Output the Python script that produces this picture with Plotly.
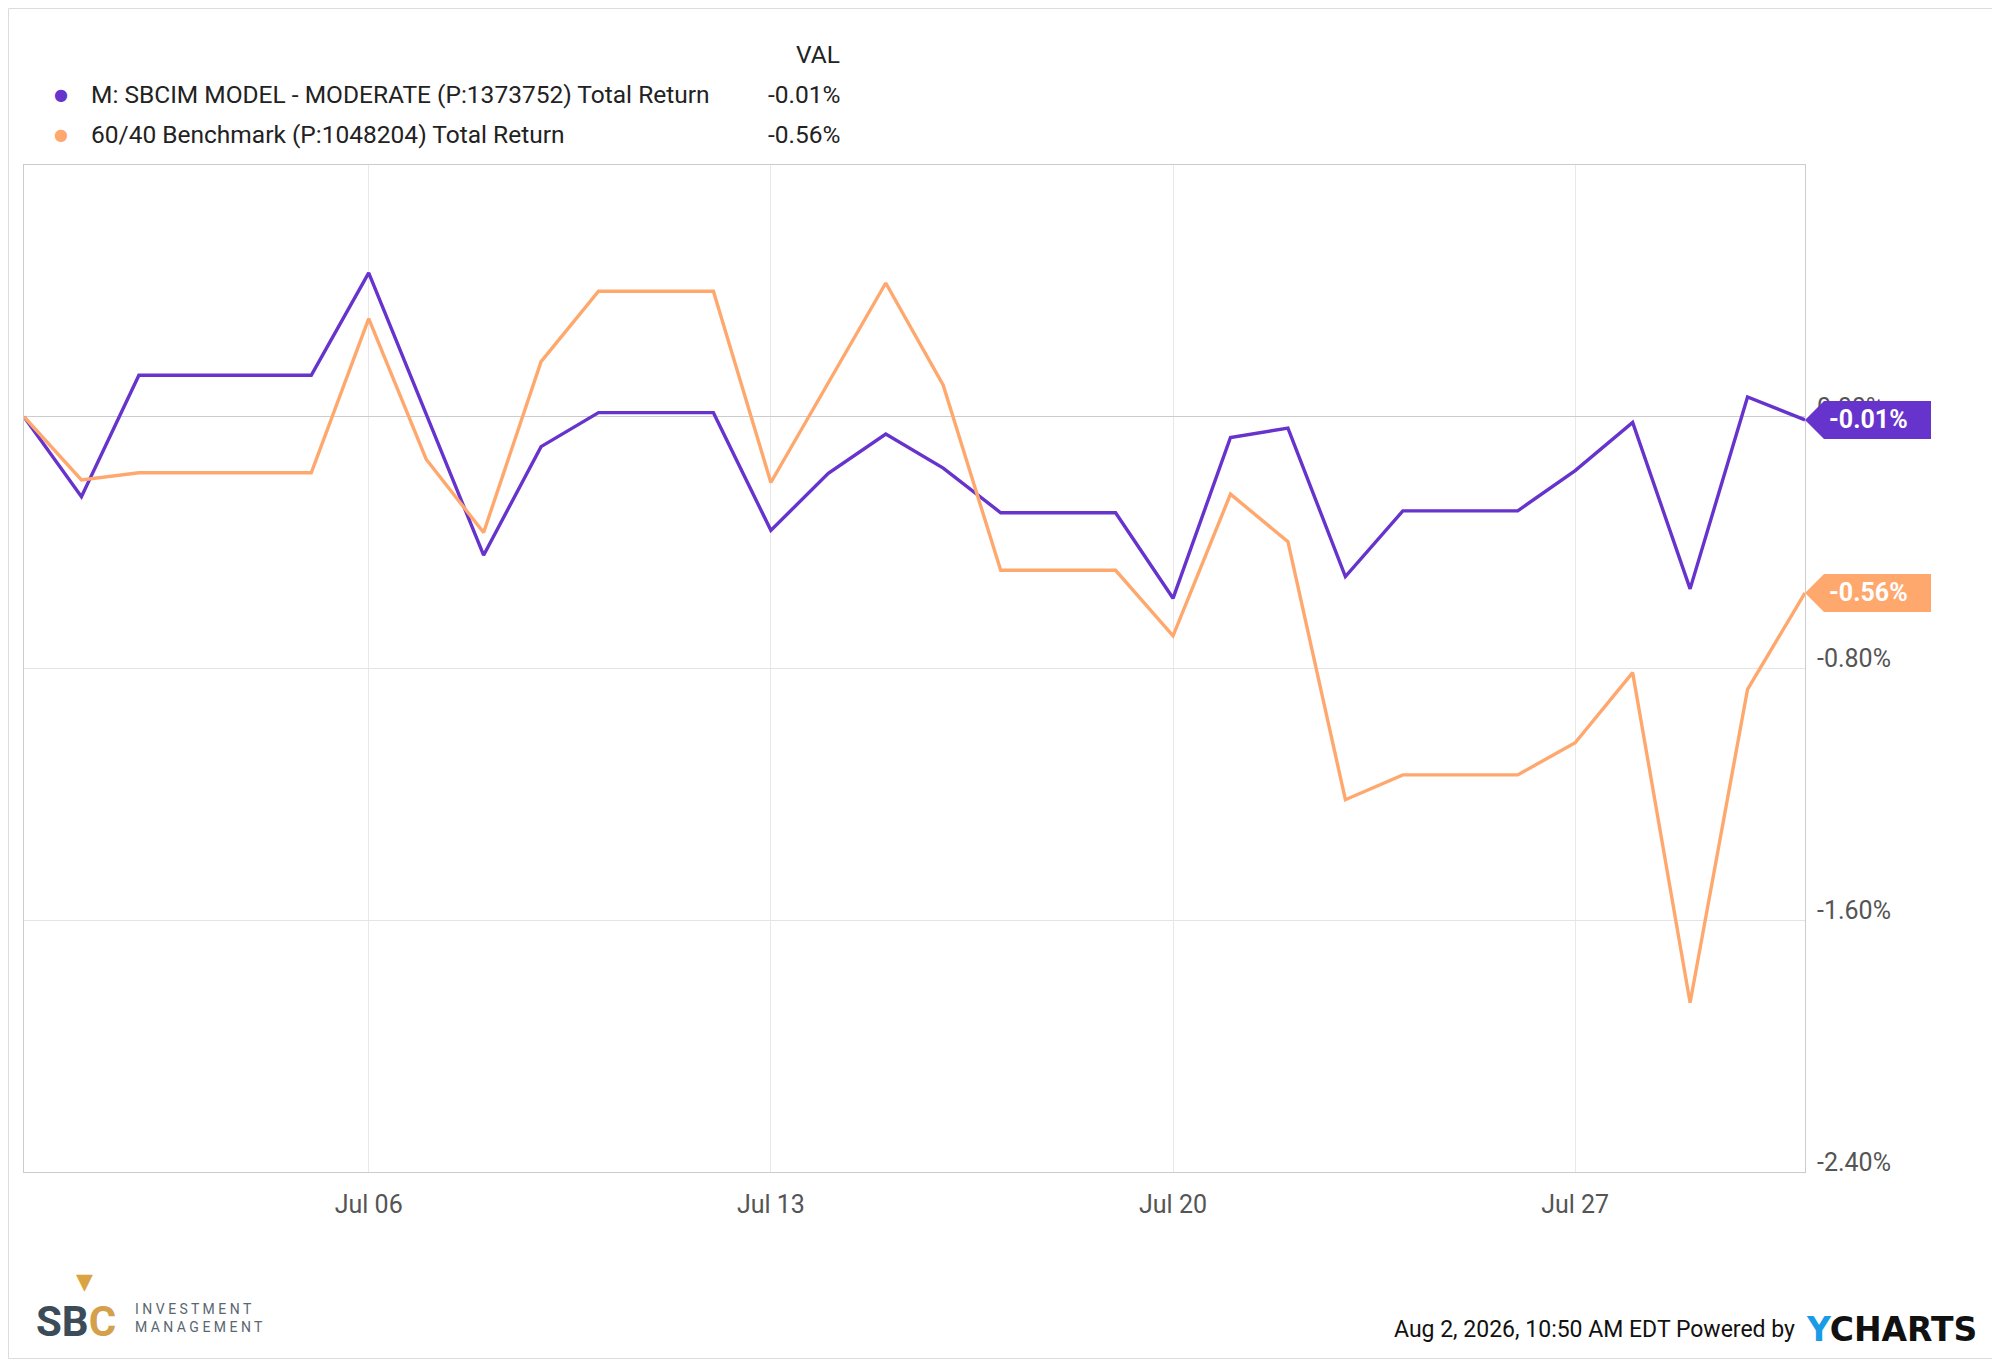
import pandas as pd
import plotly.graph_objects as go

# Daily total return (%) since Jun 30, 2026 - weekends carry the prior value
dates = pd.date_range("2026-06-30", "2026-07-31", freq="D")

sbcim_moderate = [
    0.00, -0.254, 0.132, 0.132, 0.132, 0.132, 0.457, 0.01, -0.44, -0.095,
    0.013, 0.013, 0.013, -0.361, -0.180, -0.055, -0.163, -0.305, -0.305, -0.305,
    -0.577, -0.066, -0.036, -0.508, -0.299, -0.299, -0.299, -0.171, -0.018, -0.547,
    0.063, -0.01,
]
benchmark_6040 = [
    0.00, -0.201, -0.178, -0.178, -0.178, -0.178, 0.312, -0.135, -0.368, 0.175,
    0.399, 0.399, 0.399, -0.209, 0.108, 0.425, 0.100, -0.488, -0.488, -0.488,
    -0.696, -0.246, -0.397, -1.217, -1.138, -1.138, -1.138, -1.036, -0.813, -1.862,
    -0.866, -0.56,
]

series_names = [
    "M: SBCIM MODEL - MODERATE (P:1373752) Total Return",
    "60/40 Benchmark (P:1048204) Total Return",
]
series_values = [sbcim_moderate, benchmark_6040]
series_colors = ["#6633cc", "#ffa86e"]

y_ticks = [0.0, -0.8, -1.6, -2.4]
x_ticks = ["2026-07-06", "2026-07-13", "2026-07-20", "2026-07-27"]

# page geometry in window pixels; the page body adds an 8px offset
OFF = 8
W_WIN, H_WIN = 2000, 1359
PLOT_L, PLOT_R, PLOT_T, PLOT_B = 24, 1805, 165, 1172
W_FIG, H_FIG = W_WIN - OFF, H_WIN - OFF
M_L, M_T = PLOT_L - OFF, PLOT_T - OFF
M_R, M_B = W_WIN - PLOT_R, H_WIN - PLOT_B
PW = PLOT_R - PLOT_L
PH = PLOT_B - PLOT_T


def px_x(x):
    return (x - PLOT_L) / PW


def px_y(y):
    return (PLOT_B - y) / PH


FONT = "Roboto, Arial, sans-serif"

fig = go.Figure()

for name, vals, color in zip(series_names, series_values, series_colors):
    fig.add_trace(go.Scatter(
        x=dates, y=vals, mode="lines", name=name,
        line=dict(color=color, width=3.4), showlegend=False,
        hovertemplate="%{x|%b %d}: %{y:.2f}%<extra></extra>",
    ))

# flags at the right end of each line (the x range ends on the last date)
for vals, color in zip(series_values, series_colors):
    fig.add_shape(
        type="path", xref="paper", yref="y",
        xsizemode="pixel", ysizemode="pixel",
        xanchor=1, yanchor=vals[-1],
        path="M0,0 L19,19 L126,19 L126,-19 L19,-19 Z",
        fillcolor=color, line=dict(width=0), layer="above",
    )
    fig.add_annotation(
        x=1, y=vals[-1], xref="paper", yref="y",
        text=f"<b>{vals[-1]:.2f}%</b>", showarrow=False,
        xanchor="left", yanchor="middle", xshift=22,
        font=dict(family=FONT, size=25, color="white"),
    )

# legend block with last values
fig.add_annotation(
    x=px_x(842), y=px_y(54), xref="paper", yref="paper", text="VAL",
    showarrow=False, xanchor="right", yanchor="middle",
    font=dict(family=FONT, size=24.5, color="#222222"),
)
for i, (name, vals, color) in enumerate(zip(series_names, series_values, series_colors)):
    row_y = px_y(94 + i * 40)
    fig.add_annotation(
        x=px_x(61), y=row_y, xref="paper", yref="paper", text="●",
        showarrow=False, xanchor="center", yanchor="middle",
        font=dict(family="DejaVu Sans", size=16, color=color),
    )
    fig.add_annotation(
        x=px_x(89), y=row_y, xref="paper", yref="paper", text=name,
        showarrow=False, xanchor="left", yanchor="middle",
        font=dict(family=FONT, size=24.5, color="#222222"),
    )
    fig.add_annotation(
        x=px_x(842), y=row_y, xref="paper", yref="paper", text=f"{vals[-1]:.2f}%",
        showarrow=False, xanchor="right", yanchor="middle",
        font=dict(family=FONT, size=24.5, color="#222222"),
    )

# footer
fig.add_annotation(
    x=px_x(1797), y=px_y(1329), xref="paper", yref="paper",
    text="Aug 2, 2026, 10:50 AM EDT Powered by", showarrow=False,
    xanchor="right", yanchor="middle",
    font=dict(family=FONT, size=23, color="#111111"),
)
fig.add_annotation(
    x=px_x(1804), y=px_y(1329), xref="paper", yref="paper",
    text="<b><span style='color:#1a9be6'>Y</span>CHARTS</b>", showarrow=False,
    xanchor="left", yanchor="middle",
    font=dict(family="DejaVu Sans", size=33, color="#111111"),
)
fig.add_annotation(
    x=px_x(34), y=px_y(1321), xref="paper", yref="paper",
    text="<b>SB<span style='color:#d4a04c'>C</span></b>", showarrow=False,
    xanchor="left", yanchor="middle",
    font=dict(family=FONT, size=42, color="#3b4b58"),
)
fig.add_annotation(
    x=px_x(133), y=px_y(1318), xref="paper", yref="paper",
    text="I N V E S T M E N T<br>M A N A G E M E N T", showarrow=False,
    xanchor="left", yanchor="middle", align="left",
    font=dict(family=FONT, size=14, color="#5a6670"),
)
fig.add_annotation(
    x=px_x(84), y=px_y(1281), xref="paper", yref="paper",
    text="<b>▼</b>", showarrow=False, xanchor="center", yanchor="middle",
    font=dict(family="DejaVu Sans", size=22, color="#d9a441"),
)

# thin page border
fig.add_shape(
    type="rect", xref="paper", yref="paper",
    x0=px_x(OFF + 0.5), x1=px_x(W_WIN - 0.5), y0=px_y(H_WIN - 0.5), y1=px_y(OFF + 0.5),
    line=dict(color="#dcdcdc", width=1), layer="below",
)

fig.update_layout(
    width=W_FIG, height=H_FIG,
    margin=dict(l=M_L, r=M_R, t=M_T, b=M_B),
    paper_bgcolor="white", plot_bgcolor="white",
    font=dict(family=FONT, color="#555555"),
    hovermode="x",
)
fig.update_xaxes(
    type="date", range=[dates[0], dates[-1]],
    tickvals=x_ticks, tickformat="%b %d",
    showgrid=True, gridcolor="#e8e8e8", gridwidth=1,
    showline=True, linecolor="#cccccc", mirror=True,
    ticks="", ticklabelstandoff=10,
    tickfont=dict(family=FONT, size=25, color="#555555"),
)
fig.update_yaxes(
    range=[-2.4, 0.8], side="right",
    tickvals=y_ticks, ticktext=[f"{v:.2f}%" for v in y_ticks],
    showgrid=True, gridcolor="#e4e4e4", gridwidth=1,
    zeroline=True, zerolinecolor="#cccccc", zerolinewidth=1,
    showline=True, linecolor="#cccccc", mirror=True,
    ticks="", ticklabelstandoff=6, ticklabelshift=-10,
    tickfont=dict(family=FONT, size=25, color="#555555"),
)

fig.write_html("out.html")
